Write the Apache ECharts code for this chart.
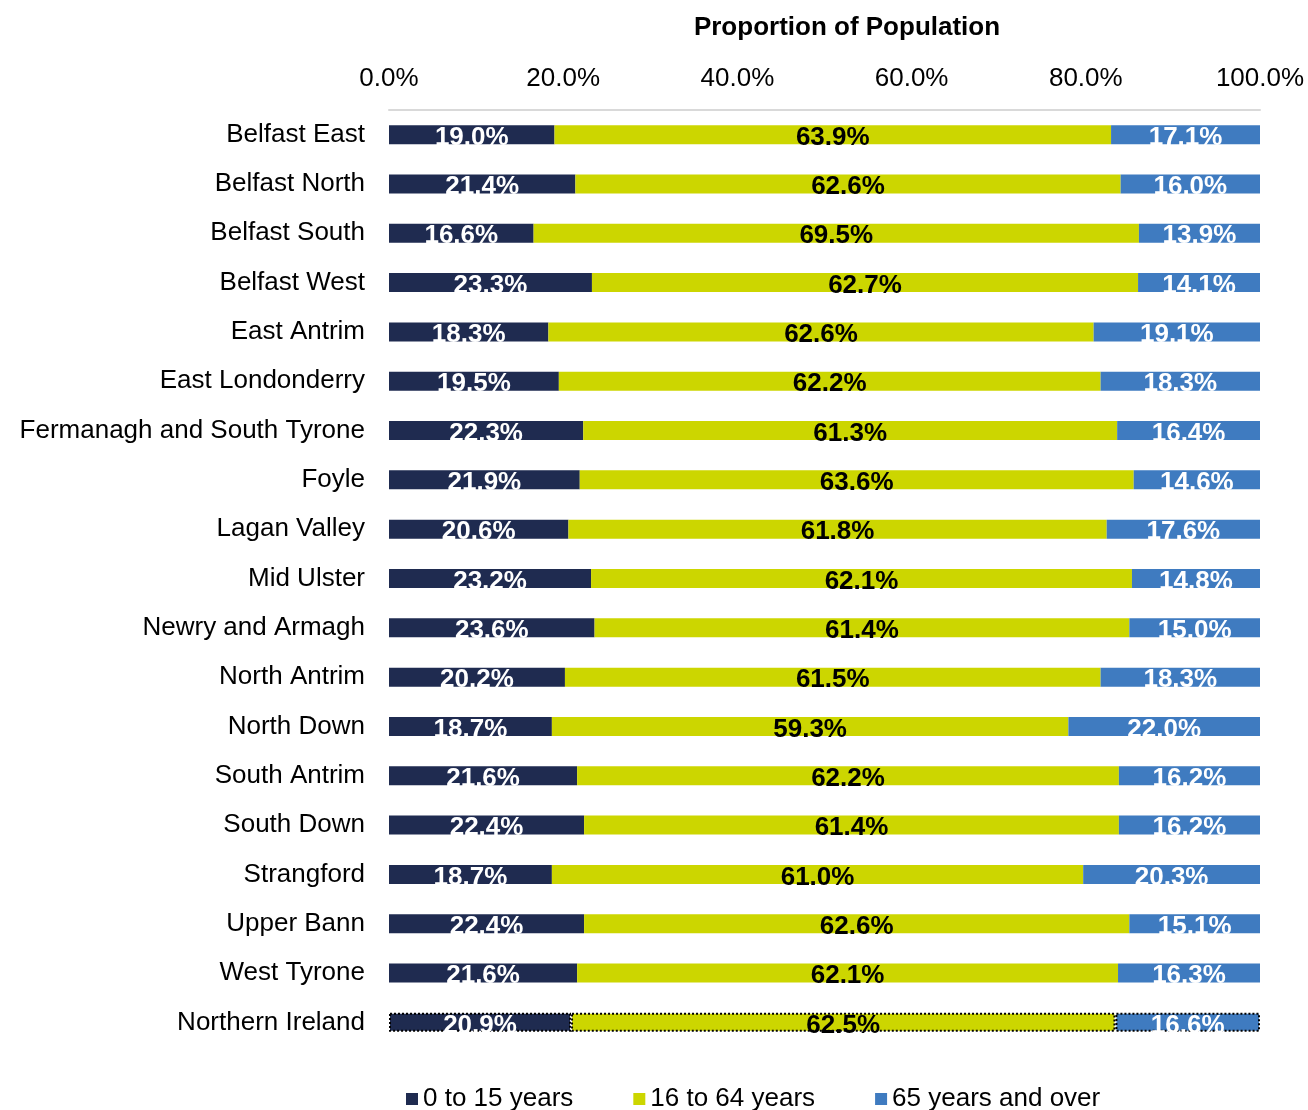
<!DOCTYPE html>
<html lang="en">
<head>
    <meta charset="UTF-8"/>
    <title>Proportion of Population by Constituency</title>
    <script src="https://cdn.jsdelivr.net/npm/echarts@6/dist/echarts.min.js"></script>
    <style>
        html, body { margin: 0; padding: 0; background: #fff; }
        #main { width: 1308px; height: 1110px; }
    </style>
</head>
<body>
<div id="main"></div>
<script type="text/javascript">

    var areas = ['Belfast East', 'Belfast North', 'Belfast South', 'Belfast West', 'East Antrim',
        'East Londonderry', 'Fermanagh and South Tyrone', 'Foyle', 'Lagan Valley', 'Mid Ulster',
        'Newry and Armagh', 'North Antrim', 'North Down', 'South Antrim', 'South Down',
        'Strangford', 'Upper Bann', 'West Tyrone', 'Northern Ireland'];

    var age0to15 = [19.0, 21.4, 16.6, 23.3, 18.3, 19.5, 22.3, 21.9, 20.6, 23.2,
        23.6, 20.2, 18.7, 21.6, 22.4, 18.7, 22.4, 21.6, 20.9];
    var age16to64 = [63.9, 62.6, 69.5, 62.7, 62.6, 62.2, 61.3, 63.6, 61.8, 62.1,
        61.4, 61.5, 59.3, 62.2, 61.4, 61.0, 62.6, 62.1, 62.5];
    var age65plus = [17.1, 16.0, 13.9, 14.1, 19.1, 18.3, 16.4, 14.6, 17.6, 14.8,
        15.0, 18.3, 22.0, 16.2, 16.2, 20.3, 15.1, 16.3, 16.6];

    var seriesNames = ['0 to 15 years', '16 to 64 years', '65 years and over'];
    var colours = ['#1F2B50', '#CCD600', '#3F7BC0'];
    var labelColours = ['#fff', '#000', '#fff'];
    var font = '"Liberation Sans", Arial, sans-serif';

    // the overall row gets a dotted outline
    function withTotalBorder(values) {
        return values.map(function (v, i) {
            if (areas[i] === 'Northern Ireland') {
                return { value: v, itemStyle: { borderColor: '#000', borderWidth: 2, borderType: [2, 2] } };
            }
            return v;
        });
    }

    var myChart = echarts.init(document.getElementById('main'));

    var series = [age0to15, age16to64, age65plus].map(function (values, k) {
        return {
            name: seriesNames[k],
            type: 'bar',
            stack: 'total',
            barWidth: 19,
            itemStyle: { color: colours[k] },
            label: {
                show: true,
                position: 'inside',
                color: labelColours[k],
                fontFamily: font,
                fontWeight: 'bold',
                fontSize: 26,
                offset: [0, 3],
                formatter: function (p) { return p.value.toFixed(1) + '%'; }
            },
            data: withTotalBorder(values)
        };
    });

    var option = {
        animation: false,
        textStyle: { fontFamily: font },
        title: {
            text: 'Proportion of Population',
            left: 842,
            top: 10,
            textAlign: 'center',
            textStyle: { fontFamily: font, fontWeight: 'bold', fontSize: 26, color: '#000' }
        },
        legend: {
            top: 1081,
            left: 401,
            itemWidth: 12,
            itemHeight: 12,
            itemGap: 60,
            icon: 'rect',
            textStyle: { fontFamily: font, fontSize: 26, color: '#000' },
            data: seriesNames
        },
        grid: { left: 389, right: 48, top: 110, bottom: 63, containLabel: false },
        xAxis: {
            type: 'value',
            position: 'top',
            min: 0,
            max: 100,
            interval: 20,
            axisLine: { show: true, lineStyle: { color: '#D9D9D9', width: 2 } },
            axisTick: { show: false },
            splitLine: { show: false },
            axisLabel: {
                margin: 18,
                color: '#000',
                fontFamily: font,
                fontSize: 26,
                formatter: function (v) { return v.toFixed(1) + '%'; }
            }
        },
        yAxis: {
            type: 'category',
            inverse: true,
            data: areas,
            axisLine: { show: false },
            axisTick: { show: false },
            axisLabel: { margin: 24, color: '#000', fontFamily: font, fontSize: 26, lineHeight: 30, padding: [4, 0, 0, 0] }
        },
        series: series
    };

    myChart.setOption(option);
</script>
</body>
</html>
